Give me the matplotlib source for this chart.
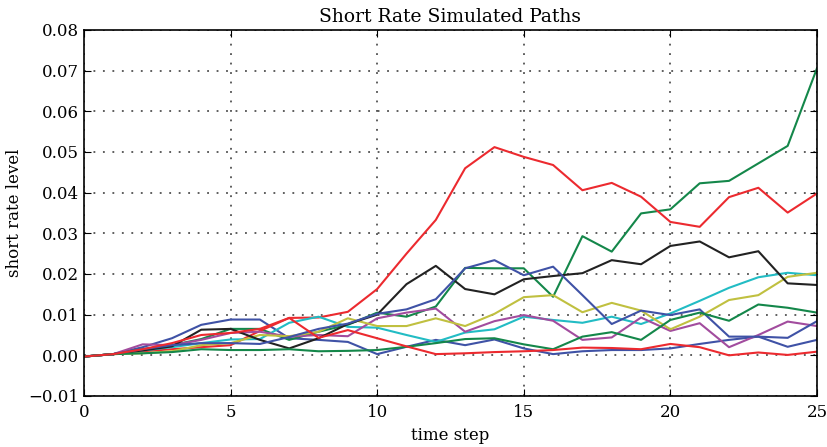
import matplotlib
matplotlib.use("Agg")
import matplotlib.pyplot as plt

steps = list(range(26))

blue_a = [-0.0003, 0.0003, 0.0020, 0.0042, 0.0075, 0.0088, 0.0088, 0.0042, 0.0038, 0.0033,
          0.0003, 0.0021, 0.0038, 0.0025, 0.0039, 0.0017, 0.0003, 0.0010, 0.0013, 0.0013,
          0.0017, 0.0028, 0.0038, 0.0046, 0.0021, 0.0038]
green_a = [-0.0003, 0.0003, 0.0015, 0.0025, 0.0040, 0.0065, 0.0065, 0.0038, 0.0058, 0.0075,
           0.0105, 0.0095, 0.0120, 0.0215, 0.0214, 0.0214, 0.0144, 0.0293, 0.0255, 0.0349,
           0.0359, 0.0423, 0.0429, 0.0472, 0.0515, 0.0706]
red_a = [-0.0003, 0.0003, 0.0010, 0.0015, 0.0020, 0.0025, 0.0060, 0.0092, 0.0093, 0.0107,
         0.0163, 0.0250, 0.0333, 0.0460, 0.0512, 0.0488, 0.0468, 0.0406, 0.0424, 0.0390,
         0.0328, 0.0316, 0.0389, 0.0412, 0.0351, 0.0398]
cyan = [-0.0003, 0.0003, 0.0012, 0.0020, 0.0030, 0.0039, 0.0040, 0.0080, 0.0095, 0.0070,
        0.0068, 0.0050, 0.0033, 0.0056, 0.0064, 0.0095, 0.0087, 0.0080, 0.0095, 0.0077,
        0.0103, 0.0134, 0.0166, 0.0192, 0.0203, 0.0197]
magenta = [-0.0003, 0.0003, 0.0027, 0.0025, 0.0038, 0.0055, 0.0058, 0.0046, 0.0050, 0.0047,
           0.0091, 0.0105, 0.0115, 0.0058, 0.0084, 0.0099, 0.0085, 0.0038, 0.0044, 0.0093,
           0.0060, 0.0079, 0.0020, 0.0050, 0.0083, 0.0072]
yellow = [-0.0003, 0.0003, 0.0005, 0.0010, 0.0025, 0.0030, 0.0050, 0.0047, 0.0058, 0.0091,
          0.0072, 0.0072, 0.0091, 0.0072, 0.0102, 0.0143, 0.0148, 0.0106, 0.0129, 0.0110,
          0.0064, 0.0095, 0.0136, 0.0148, 0.0193, 0.0203]
black = [-0.0003, 0.0003, 0.0012, 0.0022, 0.0063, 0.0065, 0.0038, 0.0017, 0.0042, 0.0077,
         0.0100, 0.0175, 0.0220, 0.0163, 0.0150, 0.0187, 0.0195, 0.0202, 0.0234, 0.0224,
         0.0269, 0.0280, 0.0241, 0.0256, 0.0177, 0.0173]
blue_b = [-0.0003, 0.0003, 0.0015, 0.0025, 0.0030, 0.0030, 0.0028, 0.0045, 0.0065, 0.0078,
          0.0102, 0.0113, 0.0138, 0.0214, 0.0234, 0.0197, 0.0218, 0.0148, 0.0077, 0.0110,
          0.0099, 0.0113, 0.0046, 0.0046, 0.0043, 0.0084]
green_b = [-0.0003, 0.0003, 0.0005, 0.0008, 0.0015, 0.0013, 0.0013, 0.0015, 0.0010, 0.0011,
           0.0013, 0.0021, 0.0030, 0.0040, 0.0042, 0.0027, 0.0015, 0.0046, 0.0057, 0.0038,
           0.0087, 0.0105, 0.0085, 0.0125, 0.0117, 0.0105]
red_b = [-0.0003, 0.0003, 0.0015, 0.0030, 0.0050, 0.0055, 0.0065, 0.0092, 0.0043, 0.0062,
         0.0042, 0.0022, 0.0003, 0.0005, 0.0008, 0.0010, 0.0013, 0.0019, 0.0018, 0.0015,
         0.0028, 0.0020, 0.0000, 0.0007, 0.0001, 0.0009]

paths = [blue_a, green_a, red_a, cyan, magenta, yellow, black, blue_b, green_b, red_b]
colors = ['#3f52a6', '#14874a', '#ec2a2f', '#22bcc4', '#a24c9e', '#c0c040', '#222222',
          '#3f52a6', '#14874a', '#ec2a2f']

y_ticks = [i / 100 for i in range(-1, 9)]
y_labels = [('%.2f' % v).replace('-', '\u2212') for v in y_ticks]

plt.rcParams['font.family'] = 'DejaVu Serif'

fig = plt.figure(figsize=(8.28, 4.47), dpi=100)
ax = fig.add_axes([0.1014, 0.1141, 0.8853, 0.8188])

for p, c in zip(paths, colors):
    ax.plot(steps, p, color=c, lw=1.5)

ax.set_xlim(0, 25)
ax.set_ylim(-0.01, 0.08)
ax.set_xticks(range(0, 26, 5))
ax.set_yticks(y_ticks)
ax.set_yticklabels(y_labels)
ax.tick_params(direction='in', top=True, right=True, labelsize=12, length=5)
ax.tick_params(axis='x', pad=6)
ax.grid(True, linestyle=(0, (1.2, 5)), color='#333333', lw=1.1)
for s in ax.spines.values():
    s.set_linewidth(1.2)

ax.set_title('Short Rate Simulated Paths', fontsize=13.5)
ax.set_xlabel('time step', fontsize=12)
ax.set_ylabel('short rate level', fontsize=12)

fig.savefig('out.png', dpi=100)
